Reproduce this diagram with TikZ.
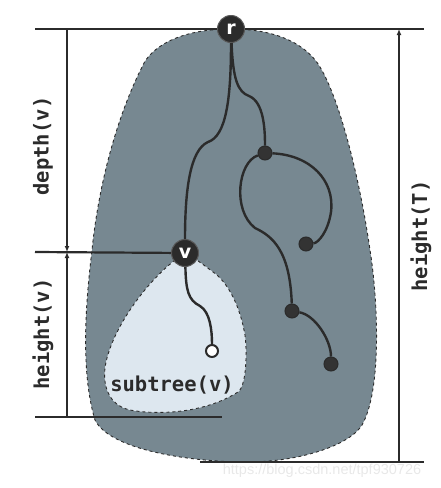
\documentclass[tikz,border=0pt]{standalone}
\usepackage{fontspec}
\setmainfont{DejaVu Sans}
\setsansfont{DejaVu Sans}
\setmonofont{DejaVu Sans Mono}
\newfontfamily\markfont{Liberation Sans}
\usetikzlibrary{arrows.meta}

\definecolor{treegray}{HTML}{778891}
\definecolor{subblue}{HTML}{DDE7EF}
\definecolor{inkdark}{HTML}{2B2B2B}

\tikzset{
	bignode/.style={shape=circle, draw=gray!70!black, fill=inkdark, line width=1pt, inner sep=0pt,
		minimum size=27pt, text=white, font=\sffamily\bfseries\fontsize{19}{19}\selectfont},
	dot/.style={shape=circle, draw=inkdark, fill=inkdark!90!gray, line width=1pt, inner sep=0pt, minimum size=14pt},
	leaf/.style={shape=circle, draw=inkdark, fill=white, line width=2pt, inner sep=0pt, minimum size=12pt},
	branch/.style={draw=inkdark, line width=2.4pt},
	rule/.style={draw=inkdark, line width=2.2pt},
	dim/.style={draw=inkdark, line width=1.2pt},
	label/.style={text=inkdark, font=\ttfamily\bfseries\fontsize{20.5}{20.5}\selectfont},
	blob/.style={draw=inkdark, dashed, line width=0.9pt}
}

\begin{document}
\begin{tikzpicture}[x=1pt, y=-1pt]
	\useasboundingbox (0,0) rectangle (440,488);

	% shaded tree T
	\path[blob, fill=treegray] (231,29)
		.. controls (175,29) and (150,50) .. (143,65)
		.. controls (115,120) and (98,190) .. (92,250)
		.. controls (86,300) and (80,370) .. (95,420)
		.. controls (110,450) and (190,462) .. (247,462)
		.. controls (300,462) and (350,445) .. (362,425)
		.. controls (382,390) and (378,300) .. (370,250)
		.. controls (360,180) and (340,100) .. (320,67)
		.. controls (310,50) and (285,29) .. (231,29) -- cycle;

	% shaded subtree(v)
	\path[blob, fill=subblue] (185,253)
		.. controls (150,275) and (110,330) .. (105,368)
		.. controls (103,385) and (108,405) .. (130,410)
		.. controls (150,414) and (200,416) .. (238,392)
		.. controls (248,385) and (247,340) .. (244,330)
		.. controls (238,300) and (225,280) .. (213,272)
		.. controls (205,266) and (195,258) .. (185,253) -- cycle;

	% measuring lines
	\coordinate (topL)  at (35,29);
	\coordinate (topR)  at (424,29);
	\coordinate (vL)    at (35,252);
	\coordinate (hvL)   at (35,417);
	\coordinate (hvR)   at (222,417);
	\coordinate (botL)  at (200,462);
	\coordinate (botR)  at (424,462);
	\coordinate (dTop)  at (67,29);
	\coordinate (dMid)  at (67,252);
	\coordinate (dBot)  at (67,417);
	\coordinate (hTop)  at (399,29);
	\coordinate (hBot)  at (399,462);

	\path[rule] (topL) -- (topR);
	\path[rule] (hvL) -- (hvR);
	\path[rule] (botL) -- (botR);

	\path[dim, -{Latex[length=6pt,width=5pt]}] (dTop) -- (dMid);
	\path[dim, {Latex[length=6pt,width=5pt]}-] (dMid) -- (dBot);
	\path[dim, {Latex[length=6pt,width=5pt]}-] (hTop) -- (hBot);

	% nodes
	\node[bignode]  (r) at (231,29)  {r};
	\node[bignode]  (v) at (185,253) {v};
	\node[dot]      (a) at (265,153) {};
	\node[dot]      (b) at (306,244) {};
	\node[dot]      (c) at (292,311) {};
	\node[dot]      (d) at (331,364) {};
	\node[leaf]     (w) at (212,351) {};

	\path[rule] (vL) -- (v);

	% branches
	\path[branch] (r) .. controls (231,100) and (226,136) .. (208,142)
		.. controls (190,150) and (185,190) .. (v);
	\path[branch] (r) .. controls (233,80) and (238,92) .. (249,96)
		.. controls (264,102) and (265,130) .. (a);
	\path[branch] (a) .. controls (310,155) and (335,180) .. (331,212)
		.. controls (328,232) and (318,243) .. (b);
	\path[branch] (a) .. controls (238,162) and (232,210) .. (255,228)
		.. controls (272,236) and (290,250) .. (c);
	\path[branch] (c) .. controls (315,315) and (331,340) .. (d);
	\path[branch] (v) .. controls (186,290) and (188,300) .. (200,306)
		.. controls (210,312) and (212,330) .. (w);

	% labels
	\node[label, rotate=90] (depth)   at (43,146)  {depth(v)};
	\node[label, rotate=90] (heightv) at (43,334)  {height(v)};
	\node[label, rotate=90] (heightT) at (421,236) {height(T)};
	\node[label]            (sub)     at (172,385) {subtree(v)};

	\node[text=gray!18, font=\markfont\fontsize{14.5}{14.5}\selectfont] (mark) at (322,471) {https://blog.csdn.net/tpf930726};
\end{tikzpicture}
\end{document}
